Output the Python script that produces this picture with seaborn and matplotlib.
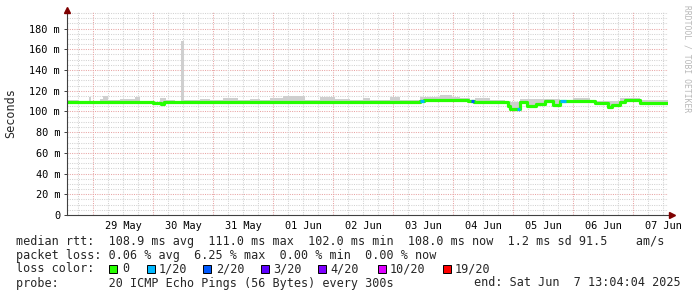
import numpy as np
import pandas as pd
import matplotlib
matplotlib.use("Agg")
import matplotlib.pyplot as plt
import seaborn as sns
from matplotlib.patches import Rectangle

# ---------------- data ----------------
# hours since graph start (end = Sat Jun 7 13:04:04 2025, 10 days shown)
end_h = 240.4
first_midnight_h = 10.4
day_labels = ["29 May", "30 May", "31 May", "01 Jun", "02 Jun",
              "03 Jun", "04 Jun", "05 Jun", "06 Jun", "07 Jun"]

# median rtt (ms), step changes
median_h = [0, 34.4, 37.6, 38.8, 141.2, 142.8, 160.4, 161.4, 162.8, 176.4,
            177.2, 180.0, 181.2, 184.0, 187.6, 191.2, 194.4, 197.2, 199.6,
            211.2, 216.4, 218.0, 221.2, 223.2, 229.2]
median_ms = [109.2, 108.2, 107.3, 109.2, 109.8, 111.2, 109.6, 109.6, 109.5,
             105.5, 102.5, 102.5, 109.0, 105.3, 107.5, 109.7, 106.6, 109.8,
             109.6, 108.1, 104.0, 106.6, 109.0, 110.7, 108.1]
median_loss = [0, 0, 0, 0, 1, 0, 0, 2, 0, 0, 0, 1, 0, 0, 0, 0, 0, 1, 0,
               0, 0, 0, 0, 0, 0]

# smoke (upper spread of the pings, ms), step changes
smoke_h = [0, 4.4, 8.8, 9.6, 13.2, 14.4, 16.4, 21.2, 27.2, 29.2, 34.4, 37.2,
           39.6, 43.2, 45.6, 46.8, 53.2, 57.2, 62.4, 68.4, 73.2, 77.2, 81.2,
           86.4, 95.2, 101.2, 107.2, 113.2, 118.4, 121.2, 129.2, 133.2,
           141.2, 149.2, 154.0, 157.2, 161.2, 163.2, 169.2, 175.2, 181.2,
           197.2, 202.4, 209.2, 221.2, 229.2]
smoke_top = [111.4, 109.5, 114.0, 110.5, 112.0, 115.0, 111.0, 112.3, 114.0,
             110.5, 109.5, 112.5, 111.0, 110.5, 168.0, 111.0, 112.0, 111.0,
             112.5, 111.0, 112.0, 111.0, 112.5, 115.0, 111.5, 113.8, 112.0,
             111.5, 113.0, 111.5, 113.8, 111.5, 113.8, 115.5, 114.0, 113.0,
             111.0, 112.5, 111.5, 109.0, 112.0, 111.5, 112.5, 110.5, 113.0,
             111.0]

loss_labels = ["0", "1/20", "2/20", "3/20", "4/20", "10/20", "19/20"]
loss_colors = ["#26ff00", "#00b8ff", "#0059ff", "#5e00ff", "#7e00ff",
               "#dd00ff", "#ff0000"]

legend_rows = [
    "median rtt:  108.9 ms avg  111.0 ms max  102.0 ms min  108.0 ms now  1.2 ms sd 91.5    am/s",
    "packet loss: 0.06 % avg  6.25 % max  0.00 % min  0.00 % now",
]
probe_text = "probe:       20 ICMP Echo Pings (56 Bytes) every 300s"
end_text = "end: Sat Jun  7 13:04:04 2025"

# ---------------- style ----------------
sns.set_style("white")
MONO = ["DejaVu Sans Mono"]
plt.rcParams["font.family"] = MONO

W, H = 697, 297
fig = plt.figure(figsize=(W / 100, H / 100), dpi=100)
fig.patch.set_facecolor("white")
ax = fig.add_axes([67 / W, 1 - 215 / H, 601 / W, 203 / H])
ax.set_facecolor("white")
ymax = 196
ax.set_xlim(0, end_h)
ax.set_ylim(0, ymax)

GRID = "#d2d2d2"
MGRID = "#e8a4a4"
AXC = "#404040"
ARROW = "#7f0000"

# grid
for v in np.arange(5, ymax, 5):
    major = (v % 20 == 0)
    ax.axhline(v, color=MGRID if major else GRID, lw=0.75,
               dashes=(1.0, 1.2), zorder=0.5)
k0 = int(np.ceil(-first_midnight_h / 6.0))
vx = first_midnight_h + 6.0 * np.arange(k0, 60)
for i, x in zip(range(k0, 60), vx):
    if 0 < x < end_h:
        ax.axvline(x, color=MGRID if i % 4 == 0 else GRID, lw=0.75,
                   dashes=(1.0, 1.2), zorder=0.5)

# smoke
mh = np.array(median_h)
sh = np.array(smoke_h)
xs = np.union1d(mh, sh)
xs = np.append(xs, end_h)
med_v = np.array(median_ms)[np.searchsorted(mh, xs, side="right") - 1]
smk_v = np.array(smoke_top)[np.searchsorted(sh, xs, side="right") - 1]
ax.fill_between(xs, med_v, np.maximum(med_v, smk_v), step="post",
                color="#cfcfcf", lw=0, zorder=1)

# median line
df = pd.DataFrame({"h": median_h + [end_h], "ms": median_ms + [median_ms[-1]]})
sns.lineplot(data=df, x="h", y="ms", ax=ax, drawstyle="steps-post",
             color=loss_colors[0], lw=2.3, zorder=2, estimator=None)
bounds = median_h + [end_h]
for i, l in enumerate(median_loss):
    if l > 0:
        ax.plot([bounds[i], bounds[i + 1]], [median_ms[i], median_ms[i]],
                color=loss_colors[l], lw=2.3, solid_capstyle="butt", zorder=3)

ax.set_xlabel("")
ax.set_ylabel("")

# axes / spines
for s in ["top", "right"]:
    ax.spines[s].set_visible(False)
for s in ["left", "bottom"]:
    ax.spines[s].set_color(AXC)
    ax.spines[s].set_linewidth(0.8)
    ax.spines[s].set_zorder(4)
ax.plot([0], [1.012], marker="^", ms=4, color=ARROW, transform=ax.transAxes,
        clip_on=False, zorder=5)
ax.plot([1.006], [0], marker=">", ms=4, color=ARROW, transform=ax.transAxes,
        clip_on=False, zorder=5)

# ticks
yt = np.arange(0, 181, 20)
ax.set_yticks(yt)
ax.set_yticklabels(["0"] + [f"{v} m" for v in yt[1:]])
noon = first_midnight_h + 12 + 24 * np.arange(len(day_labels))
ax.set_xticks(noon)
ax.set_xticklabels(day_labels)
mid = first_midnight_h + 24 * np.arange(len(day_labels))
ax.set_xticks(mid, minor=True)
ax.tick_params(axis="y", which="major", length=2.5, width=0.7, color=AXC,
               pad=2.5, labelsize=7.4, labelcolor="black", direction="out")
ax.tick_params(axis="x", which="major", length=0, pad=4, labelsize=7.4,
               labelcolor="black")
ax.tick_params(axis="x", which="minor", length=2, width=0.7, color=AXC,
               direction="out")
ax.tick_params(left=True, bottom=True)

# y label
fig.text(11 / W, 1 - 113 / H, "Seconds", rotation=90, ha="center",
         va="center", fontsize=8.5)

# watermark
fig.text(687 / W, 1 - 59 / H, "RRDTOOL / TOBI OETIKER", rotation=270,
         ha="center", va="center", fontsize=5.8, color="#b8b8b8")

# legend text
rows_y = [241, 255, 269, 283]
for txt, y in zip(legend_rows, rows_y[:2]):
    fig.text(16 / W, 1 - y / H, txt, ha="left", va="center", fontsize=8.5)
fig.text(16 / W, 1 - rows_y[2] / H, "loss color:", ha="left", va="center",
         fontsize=8.5)
sq_x = [109, 146.5, 203, 261, 318, 378, 443]
tx_x = [122, 159, 216, 273, 330, 390, 455]
for lab, c, sx, tx in zip(loss_labels, loss_colors, sq_x, tx_x):
    fig.add_artist(Rectangle((sx / W, 1 - (rows_y[2] + 4) / H), 8 / W, 8 / H,
                             transform=fig.transFigure, facecolor=c,
                             edgecolor="black", lw=0.7))
    fig.text(tx / W, 1 - rows_y[2] / H, lab, ha="left", va="center",
             fontsize=8.5)
fig.text(16 / W, 1 - rows_y[3] / H, probe_text, ha="left", va="center",
         fontsize=8.5)
fig.text(681 / W, 1 - rows_y[3] / H, end_text, ha="right", va="center",
         fontsize=8.5)

fig.savefig("out.png", dpi=100, facecolor="white")
